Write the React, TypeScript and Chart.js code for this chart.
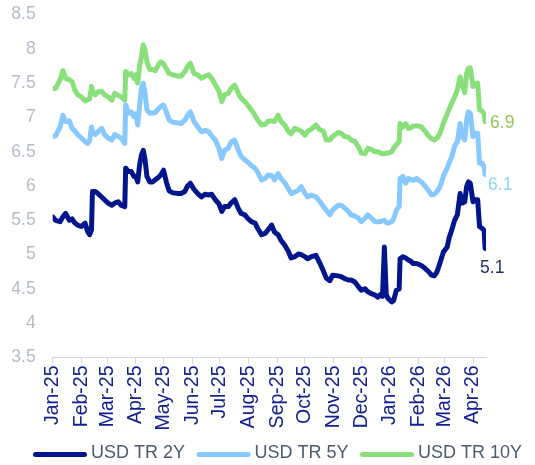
import React, { useEffect, useRef } from "react";
import { Chart, registerables } from "chart.js";

Chart.register(...registerables);

// ---------------- data ----------------
const tickLabels = [
  "Jan-25", "Feb-25", "Mar-25", "Apr-25", "May-25", "Jun-25", "Jul-25", "Aug-25",
  "Sep-25", "Oct-25", "Nov-25", "Dec-25", "Jan-26", "Feb-26", "Mar-26", "Apr-26",
];

// days since 1 Jan 2025
const dayIndex = [
  0, 3, 8, 11, 14, 18, 21, 24, 27, 31, 35, 38, 40, 42, 43, 46, 49, 53, 56, 60,
  64, 67, 71, 74, 78, 79, 82, 85, 88, 90, 92, 94, 96, 98, 100, 102, 105, 108, 111, 114,
  117, 120, 123, 126, 130, 136, 139, 143, 146, 149, 153, 157, 161, 165, 169, 172, 176, 180, 183, 186,
  190, 193, 197, 201, 204, 208, 211, 215, 219, 222, 226, 230, 233, 237, 240, 244, 247, 251, 255, 258,
  262, 266, 269, 273, 276, 280, 285, 289, 293, 296, 300, 303, 309, 312, 316, 320, 323, 327, 331, 334,
  338, 341, 345, 349, 352, 355, 357, 359, 361, 363, 367, 369, 372, 375, 376, 379, 382, 385, 388, 390,
  394, 399, 403, 407, 410, 413, 416, 419, 423, 427, 429, 432, 435, 438, 441, 443, 446, 448, 450, 452,
  455, 457, 460, 462, 465, 467, 468,
];

const usd2y = [
  5.55, 5.50, 5.48, 5.55, 5.60, 5.50, 5.52, 5.46, 5.43, 5.41, 5.46, 5.33, 5.29, 5.36, 5.92, 5.92, 5.89, 5.84, 5.80, 5.75,
  5.72, 5.75, 5.77, 5.72, 5.70, 6.26, 6.21, 6.21, 6.14, 6.14, 6.06, 6.30, 6.45, 6.52, 6.38, 6.14, 6.06, 6.06, 6.09, 6.12,
  6.16, 6.23, 6.06, 5.93, 5.90, 5.89, 5.89, 5.92, 6.00, 6.04, 5.95, 5.89, 5.84, 5.88, 5.87, 5.88, 5.80, 5.74, 5.63, 5.70,
  5.70, 5.75, 5.80, 5.67, 5.60, 5.58, 5.53, 5.48, 5.46, 5.38, 5.29, 5.31, 5.36, 5.43, 5.33, 5.29, 5.21, 5.14, 5.05, 4.95,
  4.97, 5.01, 5.00, 4.97, 4.94, 4.97, 4.99, 4.88, 4.76, 4.66, 4.62, 4.70, 4.69, 4.68, 4.65, 4.63, 4.63, 4.60, 4.53, 4.48,
  4.50, 4.46, 4.43, 4.41, 4.38, 4.42, 4.39, 5.11, 4.42, 4.36, 4.31, 4.33, 4.48, 4.50, 4.94, 4.97, 4.95, 4.92, 4.90, 4.87,
  4.87, 4.84, 4.80, 4.75, 4.70, 4.69, 4.75, 4.87, 5.04, 5.11, 5.24, 5.36, 5.50, 5.58, 5.89, 5.75, 5.77, 5.99, 6.06, 6.04,
  5.77, 5.80, 5.80, 5.41, 5.38, 5.35, 5.09,
];

const usd5y = [
  6.72, 6.73, 6.86, 7.03, 6.94, 6.95, 6.84, 6.80, 6.75, 6.70, 6.65, 6.62, 6.66, 6.86, 6.80, 6.75, 6.79, 6.84, 6.75, 6.70,
  6.67, 6.75, 6.72, 6.70, 6.62, 7.18, 7.06, 7.08, 7.01, 7.05, 6.89, 7.16, 7.42, 7.50, 7.35, 7.11, 7.06, 7.06, 7.07, 7.12,
  7.16, 7.18, 7.08, 6.96, 6.93, 6.92, 6.91, 6.96, 7.03, 7.08, 6.94, 6.86, 6.79, 6.81, 6.79, 6.73, 6.67, 6.55, 6.40, 6.52,
  6.55, 6.64, 6.67, 6.52, 6.43, 6.38, 6.35, 6.30, 6.26, 6.20, 6.09, 6.11, 6.16, 6.15, 6.09, 6.18, 6.11, 6.05, 5.96, 5.89,
  5.91, 5.94, 5.99, 5.89, 5.84, 5.87, 5.84, 5.78, 5.70, 5.65, 5.58, 5.65, 5.72, 5.72, 5.68, 5.63, 5.58, 5.56, 5.53, 5.48,
  5.53, 5.58, 5.53, 5.48, 5.48, 5.48, 5.49, 5.50, 5.47, 5.46, 5.48, 5.52, 5.65, 5.70, 6.11, 6.14, 6.04, 6.11, 6.09, 6.08,
  6.11, 6.06, 6.00, 5.93, 5.87, 5.88, 5.92, 5.98, 6.15, 6.26, 6.33, 6.43, 6.58, 6.65, 6.91, 6.72, 6.67, 6.96, 7.08, 7.06,
  6.72, 6.77, 6.77, 6.33, 6.33, 6.28, 6.17,
];

const usd10y = [
  7.42, 7.42, 7.55, 7.68, 7.57, 7.55, 7.52, 7.40, 7.33, 7.30, 7.24, 7.26, 7.27, 7.45, 7.40, 7.33, 7.37, 7.38, 7.33, 7.30,
  7.25, 7.35, 7.32, 7.30, 7.25, 7.67, 7.62, 7.64, 7.57, 7.62, 7.50, 7.74, 7.88, 8.06, 7.98, 7.81, 7.70, 7.70, 7.68, 7.76,
  7.81, 7.78, 7.71, 7.64, 7.62, 7.60, 7.60, 7.67, 7.74, 7.79, 7.64, 7.62, 7.57, 7.60, 7.62, 7.57, 7.48, 7.38, 7.23, 7.33,
  7.35, 7.42, 7.47, 7.35, 7.28, 7.23, 7.18, 7.11, 7.03, 6.96, 6.89, 6.90, 6.94, 6.95, 6.94, 7.03, 6.94, 6.89, 6.80, 6.76,
  6.84, 6.82, 6.80, 6.74, 6.80, 6.83, 6.89, 6.82, 6.80, 6.67, 6.67, 6.72, 6.78, 6.77, 6.72, 6.71, 6.67, 6.65, 6.57, 6.48,
  6.47, 6.55, 6.53, 6.50, 6.50, 6.48, 6.47, 6.47, 6.48, 6.48, 6.50, 6.55, 6.60, 6.65, 6.91, 6.86, 6.91, 6.84, 6.85, 6.87,
  6.88, 6.86, 6.80, 6.73, 6.69, 6.67, 6.70, 6.76, 6.92, 7.05, 7.12, 7.21, 7.30, 7.40, 7.59, 7.48, 7.36, 7.64, 7.72, 7.72,
  7.45, 7.48, 7.50, 7.11, 7.09, 7.05, 6.94,
];

const seriesNames = ["USD TR 2Y", "USD TR 5Y", "USD TR 10Y"];
const endLabels = ["5.1", "6.1", "6.9"];

const yMin = 3.5;
const yMax = 8.5;
const yStep = 0.5;
const xMaxDay = 469;

// ---------------- styles ----------------
const FONT = "'Liberation Sans', Arial, sans-serif";
const LINE_COLORS = ["#01168C", "#87C8FF", "#89E07B"];
const END_COLORS = ["#1F2E5E", "#8FD3FA", "#92C650"];
const END_OFFSETS: [number, number][] = [[-5, 20], [3, 11], [5, 1.5]];
const LEGEND_TEXT = "#4D5A6B";
const AXIS_COLOR = "#D0D5DD";

const monthStartDays = tickLabels.map((_, i) =>
  Math.round((Date.UTC(2025, i, 1) - Date.UTC(2025, 0, 1)) / 86400000)
);

const endLabelPlugin = {
  id: "endLabels",
  afterDatasetsDraw(chart: any) {
    const ctx = chart.ctx;
    chart.data.datasets.forEach((_: any, i: number) => {
      const meta = chart.getDatasetMeta(i);
      const pt = meta.data[meta.data.length - 1];
      if (!pt) return;
      ctx.save();
      ctx.font = `17.5px ${FONT}`;
      ctx.fillStyle = END_COLORS[i];
      ctx.textAlign = "left";
      ctx.textBaseline = "middle";
      ctx.fillText(endLabels[i], pt.x + END_OFFSETS[i][0], pt.y + END_OFFSETS[i][1]);
      ctx.restore();
    });
  },
};

const lineLegendPlugin = {
  id: "lineLegend",
  afterDraw(chart: any) {
    const ctx = chart.ctx;
    const y = chart.height - 11.5;
    let x = 35.5;
    ctx.save();
    ctx.font = `18px ${FONT}`;
    ctx.textBaseline = "middle";
    ctx.textAlign = "left";
    chart.data.datasets.forEach((ds: any) => {
      ctx.strokeStyle = ds.borderColor;
      ctx.lineWidth = 5;
      ctx.lineCap = "round";
      ctx.beginPath();
      ctx.moveTo(x, y + 1);
      ctx.lineTo(x + 49, y + 1);
      ctx.stroke();
      const tx = x + 55.5;
      ctx.fillStyle = LEGEND_TEXT;
      ctx.fillText(ds.label, tx, y);
      x = tx + ctx.measureText(ds.label).width + 14;
    });
    ctx.restore();
  },
};

export default function App() {
  const canvasRef = useRef<HTMLCanvasElement | null>(null);

  useEffect(() => {
    if (!canvasRef.current) return;
    const series = [usd2y, usd5y, usd10y];
    const chart = new Chart(canvasRef.current, {
      type: "line",
      data: {
        datasets: series.map((vals, i) => ({
          label: seriesNames[i],
          data: vals.map((v, j) => ({ x: dayIndex[j], y: v })),
          borderColor: LINE_COLORS[i],
          backgroundColor: LINE_COLORS[i],
          borderWidth: 5,
          borderJoinStyle: "round" as const,
          borderCapStyle: "round" as const,
          pointRadius: 0,
          tension: 0,
          fill: false,
        })),
      },
      options: {
        responsive: false,
        animation: false,
        layout: { padding: { top: 14.5, right: 49, bottom: 30, left: 0 } },
        plugins: {
          legend: { display: false },
          tooltip: { enabled: false },
        },
        scales: {
          x: {
            type: "linear",
            min: 0,
            max: xMaxDay,
            afterBuildTicks: (scale: any) => {
              scale.ticks = monthStartDays.map((v) => ({ value: v }));
            },
            afterFit: (scale: any) => {
              scale.height = 77.5;
            },
            grid: {
              display: true,
              drawOnChartArea: false,
              drawTicks: true,
              tickLength: 6,
              color: AXIS_COLOR,
              lineWidth: 1,
            },
            border: { display: true, color: AXIS_COLOR, width: 1 },
            ticks: {
              autoSkip: false,
              minRotation: 90,
              maxRotation: 90,
              padding: 2,
              color: "#15208F",
              font: { family: FONT, size: 19.5 },
              callback: (value: any) => {
                const k = monthStartDays.indexOf(Number(value));
                return k >= 0 ? tickLabels[k] : "";
              },
            },
          },
          y: {
            min: yMin,
            max: yMax,
            afterFit: (scale: any) => {
              scale.width = 52.7;
            },
            grid: {
              display: true,
              drawOnChartArea: false,
              drawTicks: true,
              tickLength: 17,
              color: "rgba(0,0,0,0)",
            },
            border: { display: false },
            ticks: {
              stepSize: yStep,
              padding: 0,
              color: "#B4BCC8",
              font: { family: FONT, size: 17.5 },
              callback: (v: any) => String(Math.round(Number(v) * 10) / 10),
            },
          },
        },
      },
      plugins: [endLabelPlugin, lineLegendPlugin],
    } as any);
    return () => chart.destroy();
  }, []);

  return (
    <div style={{ position: "fixed", left: 0, top: 0, width: 535, height: 465, background: "#ffffff" }}>
      <canvas ref={canvasRef} width={535} height={465} style={{ width: 535, height: 465, display: "block" }} />
    </div>
  );
}
